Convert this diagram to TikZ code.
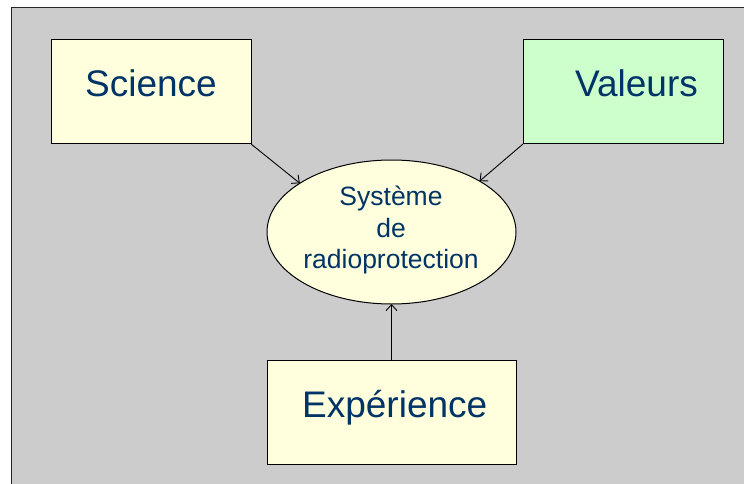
\documentclass[tikz,border=0pt]{standalone}
\usepackage{fontspec}
\setmainfont{Liberation Sans}
\usetikzlibrary{shapes.geometric,arrows.meta}
\definecolor{bggray}{RGB}{204,204,204}
\definecolor{lightyellow}{RGB}{255,255,221}
\definecolor{lightgreen}{RGB}{204,255,204}
\definecolor{textblue}{RGB}{0,51,102}
\tikzset{
  box/.style={draw=black, line width=1pt, inner sep=0pt, outer sep=0pt},
  bigtxt/.style={text=textblue, anchor=base, inner sep=0pt, font=\fontsize{37}{44}\selectfont},
  smalltxt/.style={text=textblue, anchor=base, inner sep=0pt, font=\fontsize{26.5}{31.5}\selectfont},
  conn/.style={draw=black, line width=0.9pt, -{Straight Barb[length=6pt,width=11pt]}}
}
\begin{document}
\begin{tikzpicture}[x=1pt,y=-1pt]
\useasboundingbox (0,0) rectangle (744,484);
\fill[white] (0,0) rectangle (744,484);
\fill[bggray] (11.5,7.5) rectangle (745,485);
\draw[black!85, line width=1.5pt] (11.5,485) -- (11.5,7.5) -- (745,7.5);
% boxes
\node[box, fill=lightyellow, minimum width=200pt, minimum height=104pt] (sci) at (151,92) {};
\node[box, fill=lightgreen, minimum width=200pt, minimum height=104pt] (val) at (623,92) {};
\node[box, fill=lightyellow, minimum width=249pt, minimum height=104pt] (exp) at (391.5,412) {};
\node[ellipse, draw=black, line width=1pt, fill=lightyellow, minimum width=249pt, minimum height=144pt, inner sep=0pt, outer sep=0pt] (ell) at (391.5,232) {};
% texts
\node[bigtxt] (scit) at (151,97) {Science};
\node[bigtxt] (valt) at (636.5,97) {Valeurs};
\node[bigtxt] (expt) at (394.7,417) {Expérience};
\node[smalltxt] (ell1) at (391,205) {Système};
\node[smalltxt] (ell2) at (391,237) {de};
\node[smalltxt] (ell3) at (391,268) {radioprotection};
% connectors
\draw[conn] (sci.south east) -- (ell.152);
\draw[conn] (val.south west) -- (ell.30);
\draw[conn] (exp.north) -- (ell.south);
\end{tikzpicture}
\end{document}
